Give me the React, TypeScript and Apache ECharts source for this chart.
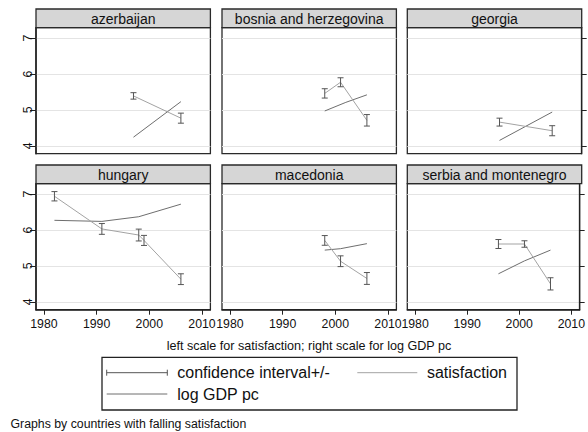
import React, { useEffect, useRef } from "react";
import * as echarts from "echarts";

const countries = ["azerbaijan", "bosnia and herzegovina", "georgia", "hungary", "macedonia", "serbia and montenegro"];
const satYears = [[1997, 2006], [1998, 2001, 2006], [1996, 2006], [1982, 1991, 1998, 1999, 2006], [1998, 2001, 2006], [1996, 2001, 2006]];
const satValues = [[5.39, 4.77], [5.46, 5.77, 4.71], [4.66, 4.42], [6.94, 6.03, 5.86, 5.71, 4.63], [5.71, 5.13, 4.65], [5.61, 5.61, 4.5]];
const ciHalf = [[0.09, 0.14], [0.13, 0.125, 0.16], [0.11, 0.14], [0.13, 0.15, 0.165, 0.14, 0.15], [0.135, 0.15, 0.165], [0.125, 0.09, 0.17]];
const gdpYears = [[1997, 2006], [1998, 2002, 2006], [1996, 2006], [1982, 1991, 1998, 2006], [1998, 2001, 2006], [1996, 2001, 2006]];
const gdpValues = [[7.24, 8.23], [7.97, 8.21, 8.42], [7.15, 7.94], [9.27, 9.24, 9.37, 9.72], [8.44, 8.48, 8.62], [7.78, 8.14, 8.44]];
const xTicks = [1980, 1990, 2000, 2010];
const yTicks = [4, 5, 6, 7];
const yRightTicks = [7, 8, 9, 10];

const FONT = "'Liberation Sans', Arial, Helvetica, sans-serif";
const colLeft = [36, 222, 407.3];
const rowTop = [27.7, 183.7];
const PW = 174.4;
const PH = 126;
const HEADER_H = 18.7;

export default function App() {
  const ref = useRef<HTMLDivElement>(null);
  useEffect(() => {
    if (!ref.current) return;
    const chart = echarts.init(ref.current, null, { renderer: "svg" });
    const grid: any[] = [];
    const xAxis: any[] = [];
    const yAxis: any[] = [];
    const series: any[] = [];
    const graphic: any[] = [];
    const isInt = (v: number) => Math.abs(v - Math.round(v)) < 1e-6;

    countries.forEach((name, i) => {
      const col = i % 3;
      const row = Math.floor(i / 3);
      const left = colLeft[col];
      const top = rowTop[row];
      grid.push({ left, top, width: PW, height: PH, show: true, borderColor: "#2a2a2a", borderWidth: 1.3, backgroundColor: "#fff" });
      const bottomRow = row === 1;
      xAxis.push({
        type: "value", gridIndex: i, min: 1978.5, max: 2011.6, splitNumber: 3,
        axisLine: { show: bottomRow, onZero: false, lineStyle: { color: "#222", width: 1.5 } },
        axisTick: { show: bottomRow, length: 5, customValues: xTicks, lineStyle: { color: "#222" } },
        axisLabel: {
          show: bottomRow, customValues: xTicks, margin: 8, fontSize: 12.3, fontFamily: FONT, color: "#111",
          formatter: (v: number) => (Math.round(v) % 10 === 0 && isInt(v) ? String(Math.round(v)) : ""),
        },
        splitLine: { show: false },
      });
      const leftCol = col === 0;
      yAxis.push({
        type: "value", gridIndex: i, min: 3.78, max: 7.29, position: "left",
        axisLine: { show: leftCol, onZero: false, lineStyle: { color: "#222", width: 1.5 } },
        axisTick: { show: leftCol, length: 6, customValues: yTicks, lineStyle: { color: "#222" } },
        axisLabel: {
          show: leftCol, customValues: yTicks, rotate: 90, margin: 2, fontSize: 12.3, fontFamily: FONT, color: "#111",
          formatter: (v: number) => (isInt(v) ? String(Math.round(v)) : ""),
        },
        splitLine: { show: true, lineStyle: { color: "#e4e4e4", width: 1 } },
      });
      const rightCol = col === 2;
      yAxis.push({
        type: "value", gridIndex: i, min: 6.78, max: 10.29, position: "right",
        axisLine: { show: rightCol, onZero: false, lineStyle: { color: "#222", width: 1.3 } },
        axisTick: { show: rightCol, length: 5, customValues: yRightTicks, lineStyle: { color: "#222" } },
        axisLabel: { show: false },
        splitLine: { show: false },
      });

      series.push({
        type: "line", xAxisIndex: i, yAxisIndex: 2 * i + 1,
        data: gdpYears[i].map((y, k) => [y, gdpValues[i][k]]),
        showSymbol: false, symbol: "none", lineStyle: { color: "#6e6e6e", width: 1 }, z: 2,
      });
      series.push({
        type: "line", xAxisIndex: i, yAxisIndex: 2 * i,
        data: satYears[i].map((y, k) => [y, satValues[i][k]]),
        showSymbol: false, symbol: "none", lineStyle: { color: "#a3a3a3", width: 1 }, z: 3,
      });
      series.push({
        type: "custom", xAxisIndex: i, yAxisIndex: 2 * i, z: 4,
        data: satYears[i].map((y, k) => [y, satValues[i][k] - ciHalf[i][k], satValues[i][k] + ciHalf[i][k]]),
        encode: { x: 0, y: [1, 2] },
        renderItem: (params: any, api: any) => {
          const x = api.value(0);
          const pLo = api.coord([x, api.value(1)]);
          const pHi = api.coord([x, api.value(2)]);
          const st = { stroke: "#555", lineWidth: 1 };
          return {
            type: "group",
            children: [
              { type: "line", shape: { x1: pLo[0], y1: pLo[1], x2: pHi[0], y2: pHi[1] }, style: st },
              { type: "line", shape: { x1: pLo[0] - 3, y1: pLo[1], x2: pLo[0] + 3, y2: pLo[1] }, style: st },
              { type: "line", shape: { x1: pHi[0] - 3, y1: pHi[1], x2: pHi[0] + 3, y2: pHi[1] }, style: st },
            ],
          };
        },
      });

      graphic.push({
        type: "rect", shape: { x: left, y: top - HEADER_H, width: PW, height: HEADER_H },
        style: { fill: "#d6d6d6", stroke: "#2a2a2a", lineWidth: 1.3 }, z: 10,
      });
      graphic.push({
        type: "text", x: left + PW / 2, y: top - HEADER_H / 2 + 0.5,
        style: { text: name, fontSize: 14, fontFamily: FONT, fill: "#111", align: "center", verticalAlign: "middle" }, z: 11,
      });
    });

    graphic.push({
      type: "text", x: 309, y: 346,
      style: { text: "left scale for satisfaction; right scale for log GDP pc", fontSize: 12.6, fontFamily: FONT, fill: "#111", align: "center", verticalAlign: "middle" },
    });
    graphic.push({ type: "rect", shape: { x: 102, y: 357.3, width: 415, height: 52.7 }, style: { fill: "none", stroke: "#222", lineWidth: 1.3 } });
    const ciSt = { stroke: "#555", lineWidth: 1 };
    graphic.push({ type: "line", shape: { x1: 106.7, y1: 372.7, x2: 167.3, y2: 372.7 }, style: ciSt });
    graphic.push({ type: "line", shape: { x1: 106.7, y1: 369.7, x2: 106.7, y2: 375.7 }, style: ciSt });
    graphic.push({ type: "line", shape: { x1: 167.3, y1: 369.7, x2: 167.3, y2: 375.7 }, style: ciSt });
    graphic.push({ type: "text", x: 177.3, y: 372.7, style: { text: "confidence interval+/-", fontSize: 16, fontFamily: FONT, fill: "#111", verticalAlign: "middle" } });
    graphic.push({ type: "line", shape: { x1: 357.3, y1: 372.7, x2: 417.3, y2: 372.7 }, style: { stroke: "#a3a3a3", lineWidth: 1 } });
    graphic.push({ type: "text", x: 507, y: 372.7, style: { text: "satisfaction", fontSize: 16, fontFamily: FONT, fill: "#111", align: "right", verticalAlign: "middle" } });
    graphic.push({ type: "line", shape: { x1: 106.7, y1: 394, x2: 167.3, y2: 394 }, style: { stroke: "#6e6e6e", lineWidth: 1 } });
    graphic.push({ type: "text", x: 177.3, y: 394, style: { text: "log GDP pc", fontSize: 16, fontFamily: FONT, fill: "#111", verticalAlign: "middle" } });
    graphic.push({
      type: "text", x: 10.5, y: 424,
      style: { text: "Graphs by countries with falling satisfaction", fontSize: 12.3, fontFamily: FONT, fill: "#111", verticalAlign: "middle" },
    });

    chart.setOption({ animation: false, backgroundColor: "#fff", grid, xAxis, yAxis, series, graphic });
    return () => chart.dispose();
  }, []);
  return <div ref={ref} style={{ position: "absolute", left: 0, top: 0, width: 588, height: 432 }} />;
}
